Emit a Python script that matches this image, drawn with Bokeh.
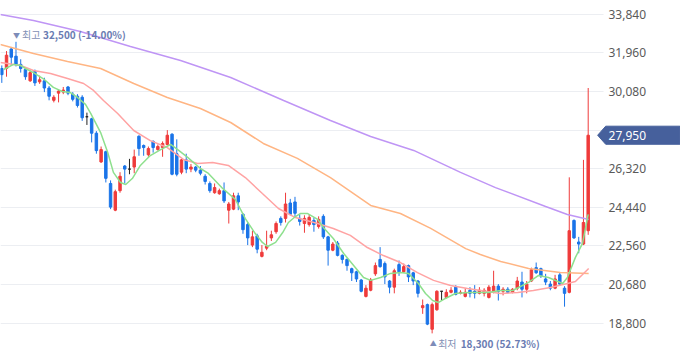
from bokeh.plotting import figure
from bokeh.models import FixedTicker, NumeralTickFormatter
from bokeh.core.properties import value
from bokeh.embed import file_html
from bokeh.resources import INLINE

opens = [31200, 31200, 32150, 31800, 31400, 31150, 30600, 31050, 30550, 30600,
         30250, 29650, 30000, 30050, 30300, 29950, 29850, 29800, 28850, 28750,
         28050, 26650, 27150, 25600, 24300, 25250, 26450, 26300, 26400, 27900,
         27450, 27000, 27650, 27250, 27350, 27500, 28000, 27050, 26150, 26750,
         26300, 26400, 26250, 25950, 25600, 25150, 25100, 25250, 24300, 24350,
         25000, 24100, 23600, 22600, 23050, 22050, 22450, 22950, 23250, 23900,
         23900, 24650, 24700, 23900, 23650, 23600, 23800, 23500, 24000, 23000,
         22350, 22700, 22100, 21900, 21450, 21300, 20900, 20100, 20400, 21200,
         21900, 21700, 20850, 20550, 21650, 21300, 21600, 21250, 20850, 19550,
         19700, 18500, 19450, 20350, 20050, 20300, 20550, 20250, 20100, 20400,
         20350, 20250, 20250, 20050, 20300, 20600, 20350, 20450, 20300, 20500,
         20800, 20450, 20850, 21500, 21450, 20950, 20700, 20500, 21150, 20500,
         20300, 23800, 22750, 22650, 23300]
highs = [31350, 32050, 32250, 32500, 31650, 31250, 31100, 31150, 30850, 30750,
         30350, 29900, 30150, 30300, 30350, 30050, 29950, 29900, 29050, 28800,
         28150, 27400, 27200, 25750, 25300, 26150, 26500, 26800, 27250, 27950,
         27500, 27400, 27700, 27500, 27650, 28200, 28050, 27750, 26800, 27050,
         26550, 26450, 26450, 26050, 25700, 25600, 25350, 25650, 24700, 25150,
         25150, 24150, 23700, 23300, 23150, 22600, 23300, 23300, 23750, 24000,
         25150, 24850, 24950, 24100, 24050, 24100, 23950, 24000, 24100, 23050,
         22750, 22800, 22150, 21950, 21500, 21350, 20950, 20650, 21000, 21750,
         22500, 21800, 20900, 21450, 21850, 21700, 21650, 21300, 20900, 19950,
         19750, 19800, 20400, 20350, 20450, 20550, 20650, 20400, 20500, 20550,
         20650, 20550, 20500, 20650, 21350, 20700, 20550, 20550, 20500, 21050,
         21300, 20850, 21500, 21750, 21500, 21200, 20850, 21150, 21250, 20600,
         25900, 23850, 23000, 26750, 30250]
lows = [30500, 30800, 31350, 31300, 31000, 30650, 30550, 30350, 30450, 30050,
        29650, 29550, 29550, 29950, 29900, 29600, 29300, 28650, 28450, 27600,
        27050, 26600, 25650, 24350, 24250, 25150, 25600, 26050, 26100, 26950,
        26950, 26900, 27100, 27200, 26900, 27450, 26000, 25950, 26050, 26100,
        26150, 26150, 26000, 25550, 25150, 25100, 25050, 24650, 23650, 24300,
        24300, 23150, 22600, 22500, 22200, 22000, 22350, 22800, 23150, 23550,
        23700, 24050, 23950, 23550, 23200, 23500, 23250, 23400, 22900, 21600,
        22300, 22050, 21700, 21350, 20850, 20800, 20300, 20050, 20350, 21100,
        21500, 20700, 20250, 20250, 21100, 21250, 20800, 20650, 20050, 19250,
        18700, 18300, 19400, 19900, 20000, 20250, 20150, 20200, 20050, 20050,
        20000, 20200, 20100, 20000, 20250, 19900, 20150, 20250, 20250, 20400,
        20050, 20250, 20800, 21200, 21000, 20650, 20400, 20450, 20650, 19600,
        20250, 22900, 22200, 22600, 23100]
closes = [30900, 31850, 31750, 31400, 31200, 30800, 31000, 30500, 30650, 30250,
          29850, 29800, 30100, 30150, 30000, 29700, 29400, 28800, 28850, 28050,
          27200, 27250, 25850, 24450, 25200, 25950, 26300, 26300, 26900, 27300,
          27350, 27300, 27350, 27400, 27550, 27950, 26050, 26050, 26750, 26300,
          26400, 26250, 26100, 25700, 25250, 25400, 25250, 24750, 24600, 25000,
          24700, 23350, 22950, 23000, 22400, 22250, 22550, 23100, 23650, 23700,
          24600, 24100, 24150, 23750, 23900, 23950, 23600, 23850, 23000, 22350,
          22650, 22100, 21900, 21600, 21250, 20950, 20350, 20500, 20900, 21600,
          21550, 21050, 20550, 21350, 21300, 21550, 21050, 20850, 20250, 19650,
          18750, 19700, 20350, 20350, 20300, 20400, 20200, 20300, 20300, 20250,
          20250, 20400, 20400, 20550, 20600, 20350, 20450, 20300, 20450, 20850,
          20450, 20700, 21400, 21250, 21100, 20800, 20500, 20950, 20700, 20250,
          23300, 22950, 22650, 23700, 27950]

# moving averages: (candle position, price)
ma5_x = [0.4, 1.2, 2.5, 4.0, 5.0, 6.7, 8.8, 10.9, 12.8, 14.5, 16.0, 17.7, 18.8, 20.9, 22.4,
         23.6, 25.1, 26.2, 27.6, 29.3, 31.4, 33.6, 35.7, 37.2, 39.3, 42.0, 43.7, 46.7, 49.4,
         51.5, 53.6, 55.1, 56.2, 57.9, 59.4, 60.6, 62.1, 63.2, 64.6, 66.8, 68.0, 70.1, 72.3,
         74.4, 76.5, 78.0, 80.1, 82.2, 84.3, 86.0, 88.1, 89.6, 91.1, 92.3, 93.8, 95.9, 98.7,
         102.9, 105.5, 108.0, 111.4, 113.5, 115.6, 118.6, 119.6, 121.3, 122.8, 124.0]
ma5_y = [31150, 31250, 31400, 31350, 31200, 31000, 30700, 30280, 30080, 30030, 29790, 29450,
         29010, 28080, 27110, 26140, 25650, 25550, 25840, 26480, 26960, 27250, 27500, 27250,
         26870, 26330, 26090, 25360, 24820, 23890, 23160, 22730, 22530, 22730, 23210, 23700,
         23990, 24140, 24140, 23850, 23460, 22920, 22190, 21610, 21020, 20880, 21020, 21220,
         21260, 21220, 20730, 20240, 19900, 19800, 20000, 20240, 20290, 20290, 20390, 20390,
         20780, 21120, 21020, 20730, 21020, 22000, 22680, 24100]
ma20_x = [-0.3, 4.0, 6.7, 10.3, 13.9, 17.3, 19.4, 21.5, 24.5, 27.9, 31.4, 35.0, 38.4, 41.4,
          44.6, 47.9, 51.5, 55.1, 58.5, 62.1, 66.8, 70.1, 73.7, 77.3, 80.7, 84.3, 87.9, 91.3,
          94.9, 98.5, 105.5, 109.1, 112.4, 116.0, 119.6, 121.3, 124.1]
ma20_y = [31490, 31350, 31100, 30960, 30710, 30470, 30130, 29640, 29010, 28180, 27690, 27350,
          26770, 26570, 26620, 26480, 25890, 25110, 24380, 23940, 23650, 23410, 23070, 22480,
          22090, 21750, 21260, 20880, 20630, 20490, 20240, 20290, 20390, 20530, 20730, 20830,
          21460]
ma60_x = [-0.3, 6.7, 13.9, 20.9, 27.9, 35.0, 42.0, 48.4, 55.3, 62.5, 69.5, 78.0, 84.3, 90.7,
          98.1, 101.2, 105.5, 111.4, 118.1, 124.1]
ma60_y = [32370, 31930, 31540, 31200, 30470, 29790, 29250, 28570, 27550, 26820, 25890, 24530,
          24140, 23410, 22430, 22140, 21800, 21460, 21260, 21220]
ma120_x = [-0.3, 6.7, 16.6, 27.2, 37.8, 48.4, 59.6, 69.5, 78.0, 87.1, 97.0, 104.4, 115.0,
           119.6, 124.1]
ma120_y = [33830, 33540, 33000, 32270, 31590, 30760, 29640, 28670, 27890, 27210, 26140, 25400,
           24480, 24090, 23850]

y_ticks = [18800, 20680, 22560, 24440, 26320, 28200, 30080, 31960, 33840]
last_price = 27950
max_label = ["▼", "최고", "32,500 (-14.00%)"]
min_label = ["▲", "최저", "18,300 (52.73%)"]

RED, BLUE, BLACK = "#ef3b3b", "#1a74e8", "#222222"
TAG = "#46609c"

idx = list(range(len(closes)))
colors = [RED if c > o else (BLUE if c < o else BLACK) for o, c in zip(opens, closes)]
tops = [max(o, c) for o, c in zip(opens, closes)]
bots = [min(o, c) for o, c in zip(opens, closes)]

X0, X_PLOT_END, X1 = -0.275, 127.24, 143.52   # candle slots: frame edge, plot area end, canvas edge
Y0, Y1 = 17076, 34512

p = figure(width=680, height=358, output_backend="svg", toolbar_location=None,
           x_range=(X0, X1), y_range=(Y0, Y1),
           x_axis_location=None, y_axis_location="right",
           min_border_left=0, min_border_right=0, min_border_top=0, min_border_bottom=0,
           outline_line_color=None, background_fill_color="white")

p.yaxis.ticker = FixedTicker(ticks=y_ticks)
p.yaxis.formatter = NumeralTickFormatter(format="0,0")
p.yaxis.major_label_overrides = {28200: ""}
p.yaxis.axis_line_color = None
p.yaxis.major_tick_line_color = None
p.yaxis.minor_tick_line_color = None
p.yaxis.major_tick_in = 0
p.yaxis.major_tick_out = 0
p.yaxis.major_label_standoff = -72
p.yaxis.major_label_text_font = "Noto Sans"
p.yaxis.major_label_text_font_size = "12px"
p.yaxis.major_label_text_color = "#5a5a5a"
for g in p.grid:
    if g.dimension == 0:
        g.visible = False
    else:
        g.ticker = FixedTicker(ticks=y_ticks)
        g.grid_line_color = "#eceef2"
        g.grid_line_width = 1

# label strip to the right of the plot area (hides the grid there)
p.quad(left=[X_PLOT_END], right=[X1 + 1], bottom=[Y0 - 1000], top=[Y1 + 1000],
       fill_color="white", line_color=None)

p.segment(x0=idx, y0=lows, x1=idx, y1=highs, line_color=colors, line_width=1)
p.vbar(x=idx, width=0.52, top=tops, bottom=bots, fill_color=colors, line_color=colors,
       line_width=1)

p.line(ma120_x, ma120_y, line_color="#bf95f5", line_width=1.5)
p.line(ma60_x, ma60_y, line_color="#ffb583", line_width=1.5)
p.line(ma20_x, ma20_y, line_color="#ffa3a3", line_width=1.5)
p.line(ma5_x, ma5_y, line_color="#8ee08e", line_width=1.5)

# max / min markers
imax = highs.index(max(highs))
imin = lows.index(min(lows))
kfont = value("Noto Sans CJK KR")
p.text(x=[imax], y=[highs[imax]], text=[max_label[0]], x_offset=-3, y_offset=-7,
       text_font=kfont, text_font_size="7px", text_color="#7d8cb8",
       text_baseline="middle", text_align="left")
p.text(x=[imax], y=[highs[imax]], text=[max_label[1]], x_offset=6, y_offset=-7,
       text_font=kfont, text_font_size="10px", text_color="#8390b5",
       text_baseline="middle", text_align="left")
p.text(x=[imax], y=[highs[imax]], text=[max_label[2]], x_offset=27, y_offset=-7,
       text_font=kfont, text_font_size="10px", text_color="#6a7cb2", text_font_style="bold",
       text_baseline="middle", text_align="left")
p.text(x=[imin], y=[lows[imin]], text=[min_label[0]], x_offset=-2.5, y_offset=10,
       text_font=kfont, text_font_size="7px", text_color="#7d8cb8",
       text_baseline="middle", text_align="left")
p.text(x=[imin], y=[lows[imin]], text=[min_label[1]], x_offset=6, y_offset=10,
       text_font=kfont, text_font_size="10px", text_color="#8390b5",
       text_baseline="middle", text_align="left")
p.text(x=[imin], y=[lows[imin]], text=[min_label[2]], x_offset=28.5, y_offset=10,
       text_font=kfont, text_font_size="10px", text_color="#6a7cb2", text_font_style="bold",
       text_baseline="middle", text_align="left")

# current price tag
p.patch(x=[126.0, 127.7, 143.4, 143.4, 127.7],
        y=[last_price, last_price + 440, last_price + 440, last_price - 440, last_price - 440],
        fill_color=TAG, line_color=TAG, line_width=1)
p.text(x=[128.3], y=[last_price], text=[f"{last_price:,}"], text_color="white",
       text_font=value("Noto Sans"), text_font_size="12px",
       text_baseline="middle", text_align="left")

open("out.html", "w").write(file_html(p, INLINE))
